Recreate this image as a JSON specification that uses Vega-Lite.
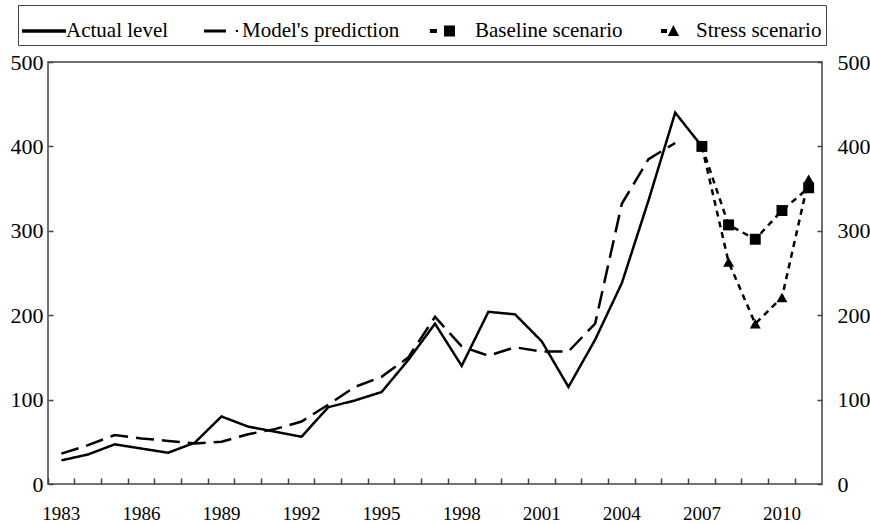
{
  "$schema": "https://vega.github.io/schema/vega-lite/v6.json",
  "width": 774,
  "height": 422,
  "autosize": "none",
  "padding": {"left": 48, "top": 62, "right": 48, "bottom": 40},
  "background": "white",
  "config": {
    "view": {"stroke": "#444", "strokeWidth": 1.5},
    "font": "Liberation Serif",
    "axis": {"grid": false, "domain": false, "labelFont": "Liberation Serif", "labelFontSize": 19, "labelColor": "black", "tickColor": "#444", "tickWidth": 1.5, "title": null}
  },
  "data": {
    "values": [
      {"series": "Actual level", "year": 1983, "value": 28},
      {"series": "Actual level", "year": 1984, "value": 35},
      {"series": "Actual level", "year": 1985, "value": 47},
      {"series": "Actual level", "year": 1986, "value": 42},
      {"series": "Actual level", "year": 1987, "value": 37},
      {"series": "Actual level", "year": 1988, "value": 49},
      {"series": "Actual level", "year": 1989, "value": 80},
      {"series": "Actual level", "year": 1990, "value": 68},
      {"series": "Actual level", "year": 1991, "value": 62},
      {"series": "Actual level", "year": 1992, "value": 56},
      {"series": "Actual level", "year": 1993, "value": 91},
      {"series": "Actual level", "year": 1994, "value": 99},
      {"series": "Actual level", "year": 1995, "value": 109},
      {"series": "Actual level", "year": 1996, "value": 147},
      {"series": "Actual level", "year": 1997, "value": 190},
      {"series": "Actual level", "year": 1998, "value": 140},
      {"series": "Actual level", "year": 1999, "value": 204},
      {"series": "Actual level", "year": 2000, "value": 201},
      {"series": "Actual level", "year": 2001, "value": 169},
      {"series": "Actual level", "year": 2002, "value": 115},
      {"series": "Actual level", "year": 2003, "value": 171},
      {"series": "Actual level", "year": 2004, "value": 238},
      {"series": "Actual level", "year": 2005, "value": 336},
      {"series": "Actual level", "year": 2006, "value": 440},
      {"series": "Actual level", "year": 2007, "value": 400},
      {"series": "Model's prediction", "year": 1983, "value": 36},
      {"series": "Model's prediction", "year": 1984, "value": 46},
      {"series": "Model's prediction", "year": 1985, "value": 58},
      {"series": "Model's prediction", "year": 1986, "value": 54},
      {"series": "Model's prediction", "year": 1987, "value": 51},
      {"series": "Model's prediction", "year": 1988, "value": 48},
      {"series": "Model's prediction", "year": 1989, "value": 50},
      {"series": "Model's prediction", "year": 1990, "value": 59},
      {"series": "Model's prediction", "year": 1991, "value": 65},
      {"series": "Model's prediction", "year": 1992, "value": 74},
      {"series": "Model's prediction", "year": 1993, "value": 94},
      {"series": "Model's prediction", "year": 1994, "value": 115},
      {"series": "Model's prediction", "year": 1995, "value": 127},
      {"series": "Model's prediction", "year": 1996, "value": 150},
      {"series": "Model's prediction", "year": 1997, "value": 198},
      {"series": "Model's prediction", "year": 1998, "value": 163},
      {"series": "Model's prediction", "year": 1999, "value": 152},
      {"series": "Model's prediction", "year": 2000, "value": 162},
      {"series": "Model's prediction", "year": 2001, "value": 157},
      {"series": "Model's prediction", "year": 2002, "value": 157},
      {"series": "Model's prediction", "year": 2003, "value": 190},
      {"series": "Model's prediction", "year": 2004, "value": 332},
      {"series": "Model's prediction", "year": 2005, "value": 385},
      {"series": "Model's prediction", "year": 2006, "value": 404},
      {"series": "Baseline scenario", "year": 2007, "value": 400},
      {"series": "Baseline scenario", "year": 2008, "value": 307},
      {"series": "Baseline scenario", "year": 2009, "value": 290},
      {"series": "Baseline scenario", "year": 2010, "value": 324},
      {"series": "Baseline scenario", "year": 2011, "value": 351},
      {"series": "Stress scenario", "year": 2007, "value": 400},
      {"series": "Stress scenario", "year": 2008, "value": 263},
      {"series": "Stress scenario", "year": 2009, "value": 190},
      {"series": "Stress scenario", "year": 2010, "value": 221},
      {"series": "Stress scenario", "year": 2011, "value": 361}
    ]
  },
  "encoding": {
    "x": {
      "field": "year",
      "type": "ordinal",
      "sort": "ascending",
      "scale": {"type": "band", "paddingInner": 0, "paddingOuter": 0},
      "axis": {
        "bandPosition": 0,
        "tickSize": -6,
        "labelPadding": 26,
        "labelAngle": 0,
        "labelBaseline": "top",
        "labelOverlap": false,
        "labelFlush": false,
        "labelExpr": "(datum.value - 1983) % 3 === 0 ? datum.label : ''"
      }
    },
    "y": {
      "field": "value",
      "type": "quantitative",
      "scale": {"domain": [0, 500], "nice": false, "zero": true}
    }
  },
  "layer": [
    {
      "mark": {"type": "line", "strokeCap": "butt", "strokeJoin": "miter", "color": "black"},
      "encoding": {
        "y": {"field": "value", "type": "quantitative", "axis": {"orient": "left", "values": [0, 100, 200, 300, 400, 500], "tickSize": -5, "labelPadding": 10, "labelFontSize": 22}},
        "strokeDash": {
          "field": "series",
          "type": "nominal",
          "scale": {
            "domain": ["Actual level", "Model's prediction", "Baseline scenario", "Stress scenario"],
            "range": [[1, 0], [18, 8], [6, 5], [6, 5]]
          },
          "legend": null
        },
        "strokeWidth": {
          "field": "series",
          "type": "nominal",
          "scale": {
            "domain": ["Actual level", "Model's prediction", "Baseline scenario", "Stress scenario"],
            "range": [2.5, 2.5, 3, 3]
          },
          "legend": null
        }
      }
    },
    {
      "transform": [
        {"filter": "datum.series === 'Baseline scenario' || (datum.series === 'Stress scenario' && datum.year > 2007)"}
      ],
      "mark": {"type": "point", "filled": true, "color": "black", "opacity": 1},
      "encoding": {
        "y": {"field": "value", "type": "quantitative", "axis": {"orient": "right", "values": [0, 100, 200, 300, 400, 500], "tickSize": -5, "labelPadding": 20, "labelFontSize": 22}},
        "shape": {
          "field": "series",
          "type": "nominal",
          "scale": {"domain": ["Baseline scenario", "Stress scenario"], "range": ["square", "triangle-up"]},
          "legend": null
        },
        "size": {"value": 120}
      }
    },
    {
      "transform": [{"filter": "false"}],
      "mark": {"type": "point", "filled": true, "color": "black", "opacity": 1, "strokeWidth": 0},
      "encoding": {
        "y": {"field": "value", "type": "quantitative", "axis": null},
        "shape": {
          "field": "series",
          "type": "nominal",
          "scale": {
            "domain": ["Actual level", "Model's prediction", "Baseline scenario", "Stress scenario"],
            "range": [
              "M-1,-0.08H1V0.08H-1Z",
              "M-0.73,-0.07H0.27V0.07H-0.73Z M0.72,-0.05H0.82V0.05H0.72Z",
              "M-1.05,-0.09H-0.73V0.09H-1.05Z M-0.41,-0.25H0.09V0.25H-0.41Z",
              "M-0.59,-0.09H-0.32V0.09H-0.59Z M-0.28,0.23L-0.03,-0.27L0.23,0.23Z"
            ]
          },
          "legend": {
            "title": null,
            "orient": "none",
            "legendX": -30,
            "legendY": -57,
            "direction": "horizontal",
            "columns": 4,
            "columnPadding": 29,
            "padding": 4,
            "strokeColor": "#444",
            "fillColor": "white",
            "labelFont": "Liberation Serif",
            "labelFontSize": 21,
            "labelColor": "black",
            "labelOffset": 0,
            "labelLimit": 400,
            "symbolSize": 1936,
            "symbolFillColor": "black",
            "symbolStrokeColor": "transparent",
            "symbolStrokeWidth": 0,
            "symbolOpacity": 1
          }
        },
        "size": {"value": 1936}
      }
    }
  ],
  "resolve": {"axis": {"y": "independent"}, "scale": {"shape": "independent"}}
}
